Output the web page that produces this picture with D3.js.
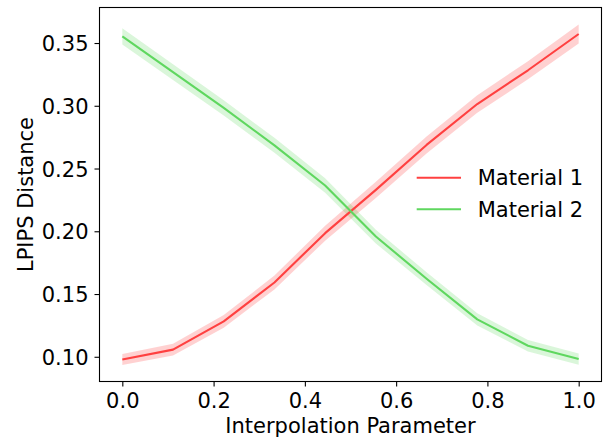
<!DOCTYPE html>
<html>
<head>
<meta charset="utf-8">
<script src="https://cdn.jsdelivr.net/npm/d3@7"></script>
<style>
  html, body { margin: 0; padding: 0; background: #fff; }
  svg { display: block; font-family: "DejaVu Sans", sans-serif; }
</style>
</head>
<body>
<svg id="chart" width="605" height="441"></svg>
<script>
// ---- data ----
const tValues = [0, 1/9, 2/9, 3/9, 4/9, 5/9, 6/9, 7/9, 8/9, 1];
const material1 = [0.0979, 0.1057, 0.1282, 0.1592, 0.1985, 0.2330, 0.2688, 0.3014, 0.3283, 0.3572];
const material1Err = [0.0044, 0.0046, 0.0050, 0.0055, 0.0060, 0.0065, 0.0068, 0.0070, 0.0072, 0.0075];
const material2 = [0.3553, 0.3268, 0.2983, 0.2685, 0.2365, 0.1958, 0.1622, 0.1298, 0.1088, 0.0982];
const material2Err = [0.0065, 0.0063, 0.0061, 0.0060, 0.0058, 0.0055, 0.0051, 0.0048, 0.0046, 0.0045];
const seriesNames = ["Material 1", "Material 2"];
const xTicks = [0.0, 0.2, 0.4, 0.6, 0.8, 1.0];
const yTicks = [0.10, 0.15, 0.20, 0.25, 0.30, 0.35];
const xLabel = "Interpolation Parameter";
const yLabel = "LPIPS Distance";

// ---- layout ----
const svg = d3.select("#chart");
const pLeft = 99.5, pRight = 601.5, pTop = 7.5, pBottom = 381.5;
const fontSize = 21;

const x = d3.scaleLinear().domain([-0.05, 1.05]).range([pLeft, pRight]);
const y = d3.scaleLinear().domain([0.0803, 0.3783]).range([pBottom, pTop]);

const colors = ["#ff4040", "#5fd75f"];
const fills = ["#ff0000", "#32cd32"];

const series = [
  { name: seriesNames[0], vals: material1, err: material1Err },
  { name: seriesNames[1], vals: material2, err: material2Err }
];

// bands
series.forEach((s, i) => {
  const pts = tValues.map((t, k) => ({ t, v: s.vals[k], e: s.err[k] }));
  const area = d3.area().x(d => x(d.t)).y0(d => y(d.v - d.e)).y1(d => y(d.v + d.e));
  svg.append("path").attr("d", area(pts))
    .attr("fill", fills[i]).attr("fill-opacity", 0.18).attr("stroke", "none");
});
// lines
series.forEach((s, i) => {
  const pts = tValues.map((t, k) => ({ t, v: s.vals[k] }));
  const line = d3.line().x(d => x(d.t)).y(d => y(d.v));
  svg.append("path").attr("d", line(pts))
    .attr("fill", "none").attr("stroke", colors[i]).attr("stroke-width", 2.1)
    .attr("stroke-linejoin", "round");
});

// axes
const xAxis = d3.axisBottom(x).tickValues(xTicks).tickFormat(d3.format(".1f")).tickSize(5).tickPadding(7);
const yAxis = d3.axisLeft(y).tickValues(yTicks).tickFormat(d3.format(".2f")).tickSize(5).tickPadding(6);

const gx = svg.append("g").attr("transform", `translate(0,${pBottom})`).call(xAxis);
const gy = svg.append("g").attr("transform", `translate(${pLeft},0)`).call(yAxis);
[gx, gy].forEach(g => {
  g.select(".domain").remove();
  g.selectAll(".tick line").attr("stroke", "#000").attr("stroke-width", 1.1);
  g.selectAll(".tick text").attr("fill", "#000").attr("font-size", fontSize)
    .attr("font-family", "DejaVu Sans, sans-serif");
});
gy.selectAll(".tick text").attr("dy", "0.36em");

// frame
svg.append("rect").attr("x", pLeft).attr("y", pTop)
  .attr("width", pRight - pLeft).attr("height", pBottom - pTop)
  .attr("fill", "none").attr("stroke", "#000").attr("stroke-width", 1.1);

// axis labels
svg.append("text").attr("x", (pLeft + pRight) / 2).attr("y", 433)
  .attr("text-anchor", "middle").attr("font-size", fontSize).text(xLabel);
svg.append("text").attr("transform", `translate(33,${(pTop + pBottom) / 2}) rotate(-90)`)
  .attr("text-anchor", "middle").attr("font-size", fontSize).text(yLabel);

// legend
const legY = [177.7, 209.3];
series.forEach((s, i) => {
  svg.append("line").attr("x1", 416.7).attr("x2", 461).attr("y1", legY[i]).attr("y2", legY[i])
    .attr("stroke", colors[i]).attr("stroke-width", 2.1);
  svg.append("text").attr("x", 477.7).attr("y", legY[i]).attr("dy", "0.36em")
    .attr("font-size", fontSize).text(s.name);
});
</script>
</body>
</html>
